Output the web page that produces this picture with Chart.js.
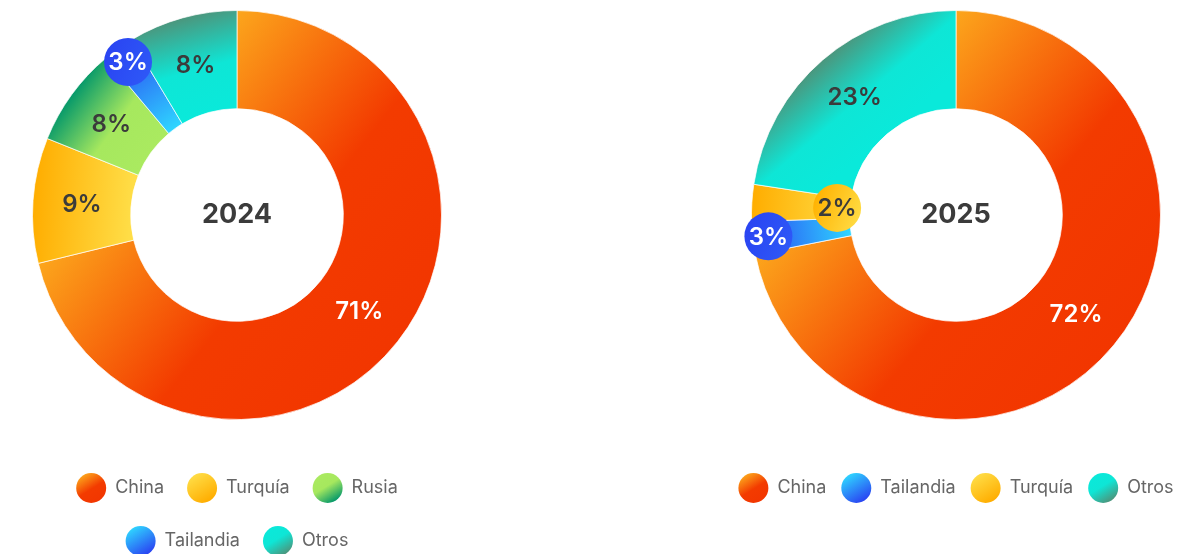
<!DOCTYPE html>
<html>
<head>
<meta charset="utf-8">
<script src="https://cdn.jsdelivr.net/npm/chart.js@4.4.1/dist/chart.umd.min.js"></script>
<style>
html, body { margin: 0; padding: 0; background: #fff; width: 1180px; height: 554px; overflow: hidden; }
canvas { position: absolute; top: 0; }
#chart2024 { left: 17px; }
#chart2025 { left: 676px; }
</style>
</head>
<body>
<canvas id="chart2024" width="440" height="566"></canvas>
<canvas id="chart2025" width="560" height="566"></canvas>
<script>
// slice sizes as drawn, and the rounded labels printed on them
const categories2024 = ['China', 'Turquía', 'Rusia', 'Tailandia', 'Otros'];
const values2024 = [71.2, 9.9, 7.8, 2.5, 8.6];
const labels2024 = ['71%', '9%', '8%', '3%', '8%'];
const categories2025 = ['China', 'Tailandia', 'Turquía', 'Otros'];
const values2025 = [71.9, 2.6, 2.9, 22.6];
const labels2025 = ['72%', '3%', '2%', '23%'];

const FONT = 'Inter, "Open Sans", sans-serif';
const TEXT = '#3b3b3b';

// gradient stops per country: 0 = outer edge (dark), 1 = inner side (light)
const stops = {
	'China': [[0, '#f23600'], [0.45, '#f33b00'], [1, '#fca61c']],
	'Turquía': [[0, '#ffad00'], [1, '#ffdd46']],
	'Rusia': [[0, '#06996a'], [0.55, '#a6e85e'], [1, '#aaea60']],
	'Tailandia': [[0, '#2a44f2'], [1, '#2fd6ff']],
	'Otros': [[0, '#4b967d'], [0.55, '#0ee6d6'], [1, '#0ae9da']]
};
const labelColour = { 'China': '#fff' };

// small slices get their label in a bubble, 'at' = place across the ring (0 inner, 1 outer)
const bubbles2024 = { 'Tailandia': { at: 0.83, fill: ['#2a44f2', '#2e58f7'], text: '#fff' } };
const bubbles2025 = {
	'Tailandia': { at: 0.84, fill: ['#2a44f2', '#2e58f7'], text: '#fff' },
	'Turquía': { at: 0.13, fill: ['#ffb100', '#ffdc44'], text: TEXT }
};

function sum(a) { return a.reduce((s, v) => s + v, 0); }

function sliceFill(ctx) {
	const chart = ctx.chart;
	const cats = chart.data.labels;
	const st = stops[cats[ctx.dataIndex]] || [[0, '#999'], [1, '#999']];
	const area = chart.chartArea;
	if (ctx.type !== 'data' || !area) return st[st.length - 1][1];
	const ctrl = chart.getDatasetMeta(ctx.datasetIndex).controller;
	const R = ctrl.outerRadius, r = ctrl.innerRadius;
	if (!R) return st[st.length - 1][1];
	const data = ctx.dataset.data;
	const total = sum(data);
	const before = sum(data.slice(0, ctx.dataIndex));
	const a0 = before / total * Math.PI * 2;
	const a1 = (before + data[ctx.dataIndex]) / total * Math.PI * 2;
	const mid = (a0 + a1) / 2, half = (a1 - a0) / 2;
	const cx = (area.left + area.right) / 2, cy = (area.top + area.bottom) / 2;
	const ux = Math.sin(mid), uy = -Math.cos(mid);
	const endD = Math.min(R * Math.cos(half), r);
	const g = chart.ctx.createLinearGradient(cx + ux * R, cy + uy * R, cx + ux * endD, cy + uy * endD);
	st.forEach(s => g.addColorStop(s[0], s[1]));
	return g;
}

// legend circles: light top-left -> dark bottom-right
const legendFill = {
	id: 'legendFill',
	beforeDraw(chart) {
		const lg = chart.legend;
		if (!lg || !lg.legendHitBoxes) return;
		lg.legendItems.forEach((item, i) => {
			const hb = lg.legendHitBoxes[i];
			const st = stops[item.text];
			const g = chart.ctx.createLinearGradient(hb.left + 22, hb.top + 28, hb.left + 6, hb.top + 2);
			st.forEach(s => g.addColorStop(s[0], s[1]));
			item.fillStyle = g;
		});
	}
};

const sliceLabels = {
	id: 'sliceLabels',
	afterDatasetsDraw(chart, args, opts) {
		const c = chart.ctx;
		const meta = chart.getDatasetMeta(0);
		const cats = chart.data.labels;
		meta.data.forEach((arc, i) => {
			const p = arc.getProps(['x', 'y', 'startAngle', 'endAngle', 'innerRadius', 'outerRadius'], true);
			const mid = (p.startAngle + p.endAngle) / 2;
			const b = opts.bubbles[cats[i]];
			const rr = p.innerRadius + (p.outerRadius - p.innerRadius) * (b ? b.at : 0.5);
			const px = p.x + Math.cos(mid) * rr, py = p.y + Math.sin(mid) * rr;
			c.save();
			if (b) {
				const g = c.createLinearGradient(px - 24, py - 10, px + 24, py + 10);
				g.addColorStop(0, b.fill[0]);
				g.addColorStop(1, b.fill[1]);
				c.fillStyle = g;
				c.beginPath();
				c.arc(px, py, 24, 0, Math.PI * 2);
				c.fill();
			}
			c.fillStyle = b ? b.text : (labelColour[cats[i]] || TEXT);
			c.font = '600 24px ' + FONT;
			c.textAlign = 'center';
			c.textBaseline = 'middle';
			c.fillText(opts.texts[i], px, py + 1);
			c.restore();
		});
		const a = meta.data[0];
		c.save();
		c.fillStyle = TEXT;
		c.font = '700 27px ' + FONT;
		c.textAlign = 'center';
		c.textBaseline = 'middle';
		c.fillText(opts.year, a.x, a.y);
		c.restore();
	}
};

// gap: space between legend items; legend rows start 53px below the ring area
function makeChart(id, year, cats, vals, texts, bubbles, padBottom, gap) {
	return new Chart(document.getElementById(id), {
		type: 'doughnut',
		data: {
			labels: cats,
			datasets: [{
				data: vals,
				backgroundColor: sliceFill,
				borderColor: 'rgba(255,255,255,0.7)',
				borderWidth: 1,
				hoverOffset: 0
			}]
		},
		options: {
			responsive: false,
			animation: false,
			cutout: '52%',
			layout: { padding: { top: 10, bottom: padBottom } },
			plugins: {
				tooltip: { enabled: false },
				sliceLabels: { year: year, texts: texts, bubbles: bubbles },
				legend: {
					position: 'bottom',
					onClick: null,
					title: { display: true, text: '', padding: { top: 0, bottom: 51 - gap }, font: { size: 2, lineHeight: 1 } },
					labels: {
						boxWidth: 30,
						boxHeight: 30,
						padding: gap,
						color: '#444',
						font: { family: FONT, size: 18 },
						generateLabels: chart => chart.data.labels.map((t, i) => ({
							text: t,
							fillStyle: stops[t][0][1],
							strokeStyle: 'rgba(0,0,0,0)',
							lineWidth: 0,
							borderRadius: 15,
							hidden: false,
							index: i
						}))
					}
				}
			}
		},
		plugins: [legendFill, sliceLabels]
	});
}

makeChart('chart2024', '2024', categories2024, values2024, labels2024, bubbles2024, 0, 23);
makeChart('chart2025', '2025', categories2025, values2025, labels2025, bubbles2025, 53, 15);
</script>
</body>
</html>
